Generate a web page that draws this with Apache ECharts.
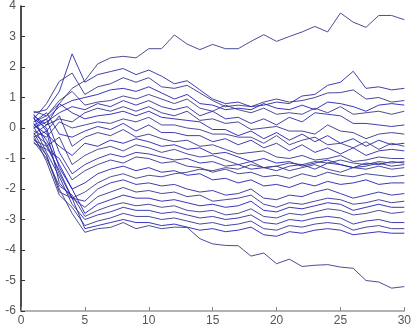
<!DOCTYPE html>
<html>
<head>
<meta charset="utf-8">
<script src="https://cdn.jsdelivr.net/npm/echarts@6/dist/echarts.min.js"></script>
<style>html,body{margin:0;padding:0;background:#fff}#c{width:414px;height:334px}</style>
</head>
<body>
<div id="c"></div>
<script>
const xValues = [1,2,3,4,5,6,7,8,9,10,11,12,13,14,15,16,17,18,19,20,21,22,23,24,25,26,27,28,29,30];
const xTicks = [0,5,10,15,20,25,30];
const yTicks = [-6,-5,-4,-3,-2,-1,0,1,2,3,4];

const lineA = [0.2,0.4,0.8,1.3,1.55,2.1,2.3,2.35,2.3,2.6,2.6,3.05,2.75,2.57,2.74,2.6,2.6,2.84,3.06,2.84,3.0,3.15,3.33,3.15,3.77,3.47,3.3,3.69,3.69,3.55];
const lineB = [0.5,0.6,1.2,2.43,1.5,1.75,1.85,1.95,1.75,1.9,1.7,1.45,1.55,1.25,0.95,0.8,0.85,0.7,0.75,0.85,0.8,1.05,1.1,1.4,1.5,1.86,1.3,1.35,1.25,1.3];
const lineC = [0.3,0.8,1.53,1.8,1.1,1.35,1.45,1.65,1.5,1.65,1.35,1.3,1.4,1.15,0.9,0.7,0.75,0.7,0.85,0.95,0.85,0.9,1.0,1.15,1.16,1.25,0.95,1.0,0.85,0.9];
const lineD = [0.1,0.3,0.7,0.9,1.0,1.1,1.25,1.3,1.2,1.35,1.15,0.95,1.1,0.8,0.75,0.6,0.65,0.6,0.8,0.65,0.6,0.75,0.6,0.85,0.8,0.7,0.55,0.75,0.8,0.75];
const lineE = [0.55,0.4,0.9,1.2,0.75,0.85,0.9,1.05,0.95,1.1,0.95,0.8,0.95,0.65,0.55,0.75,0.6,0.5,0.65,0.45,0.5,0.45,0.65,0.5,0.7,0.45,0.5,0.55,0.45,0.55];
const lineF = [0.0,0.2,0.5,0.7,0.6,0.8,0.7,0.9,0.75,0.9,0.7,0.6,0.7,0.4,0.55,0.3,0.35,0.15,0.3,0.1,0.35,0.2,0.5,0.45,0.4,0.15,0.15,0.1,0.05,0.1];
const lineG = [-0.2,0.1,0.3,0.2,0.5,0.65,0.55,0.7,0.55,0.7,0.5,0.4,0.55,0.25,0.3,0.15,0.2,-0.05,0.0,0.05,-0.1,-0.1,-0.2,0.1,-0.1,-0.15,-0.35,-0.2,-0.15,-0.2];
const lineH = [0.4,0.1,0.8,0.5,0.3,0.4,0.45,0.55,0.4,0.55,0.35,0.3,0.25,0.2,-0.05,-0.05,-0.25,-0.1,-0.35,-0.15,-0.4,-0.2,-0.45,-0.25,-0.5,-0.35,-0.6,-0.4,-0.55,-0.5];
const lineI = [-0.1,-0.3,0.2,0.0,0.1,0.2,0.15,0.3,0.2,0.35,0.1,0.1,0.0,-0.05,-0.2,-0.2,-0.3,-0.3,-0.5,-0.25,-0.55,-0.4,-0.3,-0.55,-0.5,-0.65,-0.45,-0.7,-0.5,-0.6];
const lineJ = [0.2,0.5,-0.2,-0.3,-0.1,0.05,-0.05,0.15,-0.1,0.1,-0.15,-0.15,-0.25,-0.25,-0.45,-0.35,-0.55,-0.4,-0.65,-0.5,-0.75,-0.55,-0.8,-0.65,-0.85,-0.65,-0.9,-0.75,-0.7,-0.75];
const lineK = [-0.3,-0.1,0.4,-0.6,-0.3,-0.15,-0.25,-0.05,-0.3,-0.2,-0.35,-0.45,-0.4,-0.6,-0.55,-0.7,-0.85,-0.8,-0.75,-0.95,-1.0,-0.9,-1.05,-1.0,-0.9,-1.1,-1.05,-0.95,-1.0,-1.0];
const lineL = [0.1,-0.2,-0.6,-0.9,-0.5,-0.6,-0.4,-0.5,-0.35,-0.45,-0.6,-0.55,-0.7,-0.65,-0.85,-0.8,-0.95,-1.1,-1.0,-1.15,-1.1,-1.25,-1.15,-1.05,-1.2,-1.3,-1.15,-1.2,-1.1,-1.15];
const lineM = [-0.4,-0.6,-0.3,-1.2,-0.9,-0.7,-0.6,-0.75,-0.55,-0.65,-0.8,-0.7,-0.85,-0.95,-0.9,-1.05,-1.2,-1.1,-1.3,-1.25,-1.4,-1.3,-1.2,-1.35,-1.45,-1.3,-1.35,-1.25,-1.35,-1.3];
const lineN = [0.0,0.3,-0.8,-1.5,-1.2,-1.0,-0.85,-0.95,-0.8,-0.85,-0.95,-1.05,-1.0,-1.15,-1.1,-1.25,-1.2,-1.35,-1.3,-1.4,-1.25,-1.2,-1.35,-1.15,-1.2,-1.3,-1.25,-1.15,-1.25,-1.2];
const lineO = [-0.5,-0.7,-1.0,-1.7,-1.4,-1.2,-1.05,-1.15,-0.95,-1.0,-1.15,-1.1,-1.25,-1.3,-1.45,-1.35,-1.5,-1.45,-1.6,-1.55,-1.65,-1.5,-1.6,-1.45,-1.55,-1.6,-1.5,-1.55,-1.6,-1.55];
const lineP = [0.3,0.0,-1.3,-2.0,-1.8,-1.5,-1.35,-1.25,-1.4,-1.3,-1.45,-1.4,-1.55,-1.5,-1.7,-1.65,-1.8,-1.7,-1.9,-1.85,-1.95,-1.8,-1.9,-1.75,-1.85,-1.8,-1.7,-1.85,-1.8,-1.8];
const lineQ = [-0.2,-0.5,-1.5,-2.3,-2.1,-1.8,-1.6,-1.5,-1.65,-1.55,-1.6,-1.5,-1.45,-1.35,-1.4,-1.3,-1.35,-1.2,-1.3,-1.25,-1.15,-1.2,-1.1,-1.15,-1.05,-1.15,-1.2,-1.1,-1.15,-1.1];
const lineR = [0.45,-0.1,-1.8,-2.3,-2.4,-2.0,-1.8,-1.7,-1.85,-1.8,-1.9,-1.85,-2.0,-2.1,-2.05,-2.2,-2.15,-2.0,-2.3,-2.35,-2.2,-2.25,-2.1,-2.0,-2.15,-2.3,-2.2,-2.1,-2.2,-2.15];
const lineS = [-0.35,-0.9,-2.1,-2.3,-2.6,-2.25,-2.1,-1.95,-2.1,-2.05,-2.15,-2.1,-2.25,-2.2,-2.4,-2.35,-2.3,-2.2,-2.5,-2.6,-2.45,-2.5,-2.4,-2.3,-2.35,-2.5,-2.45,-2.35,-2.45,-2.4];
const lineT = [0.15,-0.4,-1.2,-2.0,-2.8,-2.5,-2.35,-2.2,-2.3,-2.3,-2.4,-2.35,-2.45,-2.55,-2.5,-2.6,-2.55,-2.4,-2.7,-2.75,-2.6,-2.65,-2.55,-2.45,-2.5,-2.7,-2.6,-2.5,-2.6,-2.6];
const lineU = [-0.45,-1.0,-1.9,-2.2,-2.9,-2.7,-2.55,-2.45,-2.55,-2.5,-2.6,-2.55,-2.7,-2.75,-2.7,-2.85,-2.8,-2.65,-2.9,-2.95,-2.8,-2.85,-2.75,-2.65,-2.7,-2.85,-2.8,-2.7,-2.8,-2.75];
const lineV = [0.05,-0.8,-1.6,-2.5,-3.0,-2.85,-2.75,-2.6,-2.7,-2.7,-2.8,-2.75,-2.85,-2.95,-2.9,-3.0,-2.95,-2.85,-3.1,-3.15,-3.0,-3.05,-2.95,-2.9,-2.95,-3.15,-3.05,-3.0,-3.1,-3.1];
const lineW = [-0.25,-1.1,-2.2,-2.6,-3.2,-3.05,-2.95,-2.8,-2.9,-2.9,-3.0,-2.95,-3.05,-3.15,-3.1,-3.2,-3.15,-3.05,-3.3,-3.35,-3.2,-3.25,-3.15,-3.1,-3.15,-3.35,-3.25,-3.2,-3.3,-3.3];
const lineX = [0.35,-0.6,-1.4,-2.3,-3.3,-3.2,-3.1,-3.0,-3.1,-3.1,-3.2,-3.15,-3.25,-3.35,-3.3,-3.4,-3.35,-3.25,-3.5,-3.55,-3.4,-3.45,-3.35,-3.3,-3.35,-3.5,-3.45,-3.4,-3.45,-3.45];
const lineY = [-0.15,-0.9,-2.0,-2.8,-3.42,-3.3,-3.26,-3.1,-3.3,-3.2,-3.3,-3.25,-3.26,-3.63,-3.8,-3.85,-3.86,-4.2,-4.1,-4.45,-4.3,-4.54,-4.5,-4.48,-4.56,-4.6,-5.0,-5.05,-5.25,-5.2];

const allLines = [lineA,lineB,lineC,lineD,lineE,lineF,lineG,lineH,lineI,lineJ,lineK,lineL,lineM,lineN,lineO,lineP,lineQ,lineR,lineS,lineT,lineU,lineV,lineW,lineX,lineY];
const lineColors = ['#3a3a8a','#2a2aa8','#34348e','#2020b8'];

const chart = echarts.init(document.getElementById('c'), null, {renderer:'canvas'});
chart.setOption({
  animation: false,
  backgroundColor: '#ffffff',
  grid: {left: 21, right: 4, top: 5, bottom: 23, containLabel: false},
  xAxis: {
    type: 'value', min: 0, max: 30, interval: 5,
    axisLine: {show: true, onZero: false, lineStyle: {color: '#9a9a9a', width: 1.5}},
    axisTick: {show: true, inside: true, length: 4, lineStyle: {color: '#888'}},
    axisLabel: {color: '#555', fontFamily: 'Liberation Sans, Arial, sans-serif', fontSize: 12, margin: 4},
    splitLine: {show: false}
  },
  yAxis: {
    type: 'value', min: -6, max: 4, interval: 1,
    axisLine: {show: true, onZero: false, lineStyle: {color: '#111', width: 1.5}},
    axisTick: {show: true, inside: true, length: 4, lineStyle: {color: '#333'}},
    axisLabel: {color: '#555', fontFamily: 'Liberation Sans, Arial, sans-serif', fontSize: 12, margin: 5},
    splitLine: {show: false}
  },
  series: allLines.map((arr, i) => ({
    type: 'line',
    data: arr.map((v, j) => [xValues[j], v]),
    showSymbol: false,
    symbol: 'none',
    lineStyle: {width: 1, color: lineColors[i % lineColors.length], opacity: 0.9},
    silent: true
  }))
});
</script>
</body>
</html>
